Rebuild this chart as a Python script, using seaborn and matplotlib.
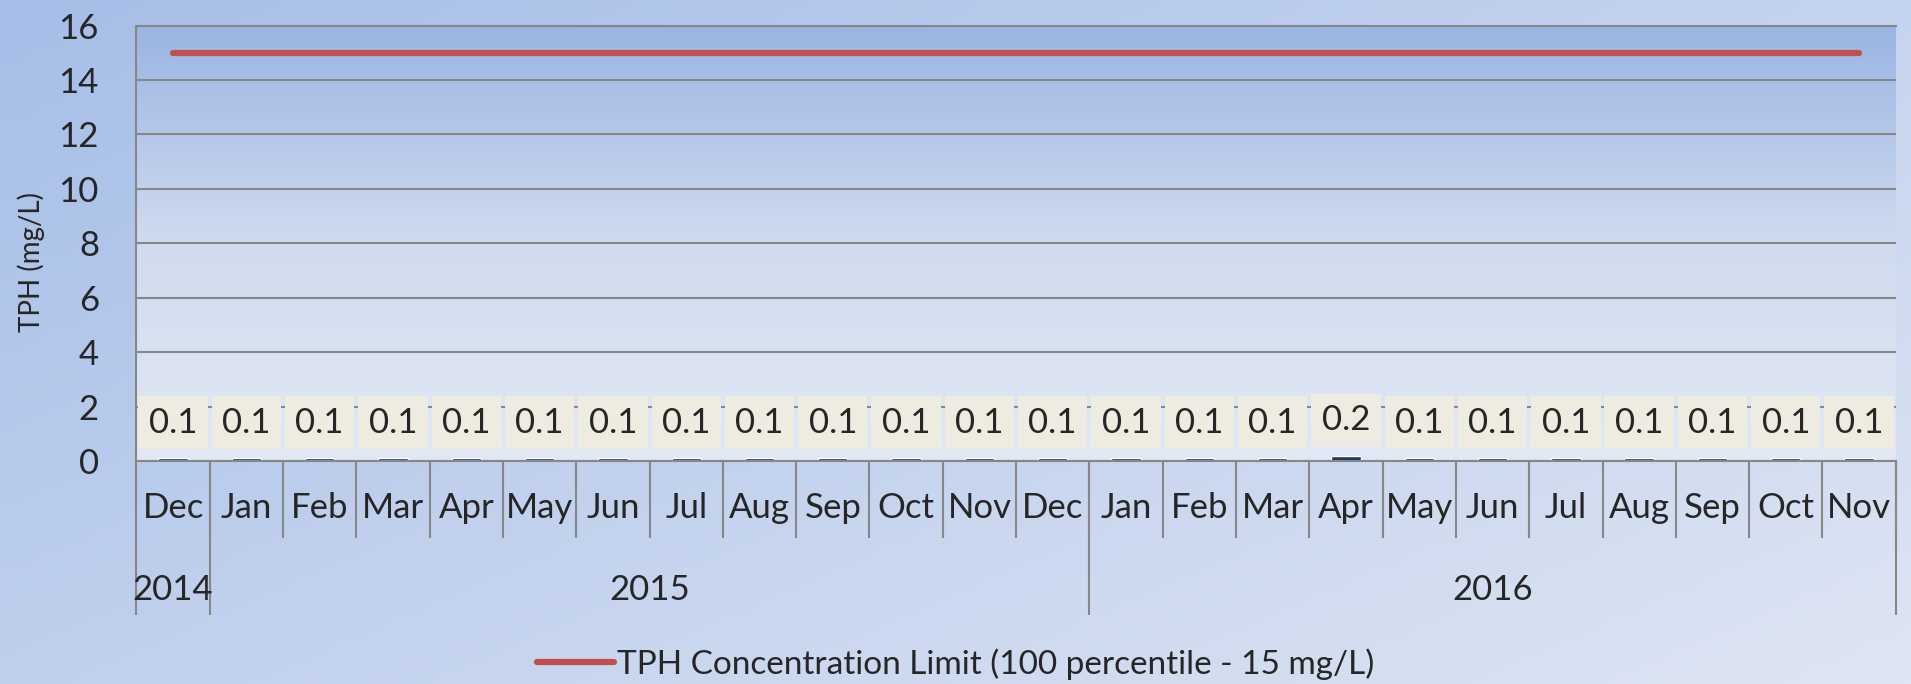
import numpy as np
import pandas as pd
import matplotlib
matplotlib.use("Agg")
import matplotlib.pyplot as plt
import seaborn as sns
from matplotlib.colors import LinearSegmentedColormap

# dati
mesi = ["Dec", "Jan", "Feb", "Mar", "Apr", "May", "Jun", "Jul", "Aug", "Sep", "Oct", "Nov",
        "Dec", "Jan", "Feb", "Mar", "Apr", "May", "Jun", "Jul", "Aug", "Sep", "Oct", "Nov"]
anni = ["2014", "2015", "2016"]
anni_centro = [0, 6.5, 18]
anni_confini = [-0.5, 0.5, 12.5, 23.5]
tph = [0.1, 0.1, 0.1, 0.1, 0.1, 0.1, 0.1, 0.1, 0.1, 0.1, 0.1, 0.1,
       0.1, 0.1, 0.1, 0.1, 0.2, 0.1, 0.1, 0.1, 0.1, 0.1, 0.1, 0.1]
limite = [15, 15, 15, 15, 15, 15, 15, 15, 15, 15, 15, 15,
          15, 15, 15, 15, 15, 15, 15, 15, 15, 15, 15, 15]
etichette = ["0.1", "0.1", "0.1", "0.1", "0.1", "0.1", "0.1", "0.1", "0.1", "0.1", "0.1", "0.1",
             "0.1", "0.1", "0.1", "0.1", "0.2", "0.1", "0.1", "0.1", "0.1", "0.1", "0.1", "0.1"]
nome_limite = "TPH Concentration Limit (100 percentile - 15 mg/L)"

df = pd.DataFrame({"idx": np.arange(len(mesi)), "mese": mesi, "tph": tph, "limite": limite})

sns.set_style("white")
plt.rcParams["font.family"] = ["Lato", "DejaVu Sans"]

grigio = "#878787"
fig = plt.figure(figsize=(19.11, 6.84), dpi=100)

# sfondo sfumato della figura
bg = fig.add_axes([0, 0, 1, 1], zorder=-10)
cmap_bg = LinearSegmentedColormap.from_list("bg", ["#A6BEE8", "#DEE5F3"])
yy, xx = np.mgrid[0:1:200j, 0:1:200j]
bg.imshow(0.55 * xx + 0.45 * yy, cmap=cmap_bg, aspect="auto", extent=[0, 1, 1, 0])
bg.axis("off")

ax = fig.add_axes([0.0714, 0.326, 0.9206, 0.6366])
ax.patch.set_alpha(0)

sns.barplot(data=df, x="idx", y="tph", color="#1F3864", width=0.4, saturation=1, ax=ax)
sns.lineplot(data=df, x="idx", y="limite", color="#C0504D", linewidth=4.5,
             solid_capstyle="round", label=nome_limite, legend=False, ax=ax)

ax.set_xlim(-0.5, 23.5)
ax.set_ylim(0, 16)

# sfondo sfumato dell'area del grafico
cmap_pa = LinearSegmentedColormap.from_list("pa", ["#E2E8F5", "#D0DBEF", "#9AB5E3"])
ax.imshow(np.linspace(0, 1, 200).reshape(-1, 1), cmap=cmap_pa, aspect="auto",
          extent=[-0.5, 23.5, 0, 16], origin="lower", zorder=0)
ax.set_xlim(-0.5, 23.5)
ax.set_ylim(0, 16)

ax.bar_label(ax.containers[0], labels=etichette, padding=14, fontsize=25,
             bbox=dict(boxstyle="square,pad=0.3", fc="#EEECE1", ec="none"))

ax.set_yticks(np.arange(0, 17, 2))
ax.tick_params(axis="y", length=0, pad=27, labelsize=25)
ax.set_xticks(np.arange(len(mesi)))
ax.set_xticklabels(mesi)
ax.tick_params(axis="x", length=0, pad=22, labelsize=25)
ax.set_xlabel("")
ax.set_ylabel("TPH (mg/L)", fontsize=20)
ax.yaxis.set_label_coords(-0.052, 0.457)

ax.yaxis.grid(True, color=grigio, linewidth=1.5)
ax.set_axisbelow(True)
for lato in ["left", "bottom", "top"]:
    ax.spines[lato].set_color(grigio)
    ax.spines[lato].set_linewidth(1.5)
ax.spines["right"].set_visible(False)

# asse x a due livelli
trans = ax.get_xaxis_transform()
ax.vlines(np.arange(-0.5, 24, 1), 0, -0.177, transform=trans, color=grigio,
          linewidth=1.5, clip_on=False)
ax.vlines(anni_confini, 0, -0.354, transform=trans, color=grigio,
          linewidth=1.5, clip_on=False)
for anno, xc in zip(anni, anni_centro):
    ax.text(xc, -0.296, anno, transform=trans, ha="center", va="center", fontsize=25)

maniglie, nomi = ax.get_legend_handles_labels()
fig.legend(maniglie, nomi, loc="center", bbox_to_anchor=(0.5, 0.029), frameon=False,
           fontsize=24, handlelength=2.3, handletextpad=0.1)

fig.savefig("out.png", dpi=100)
